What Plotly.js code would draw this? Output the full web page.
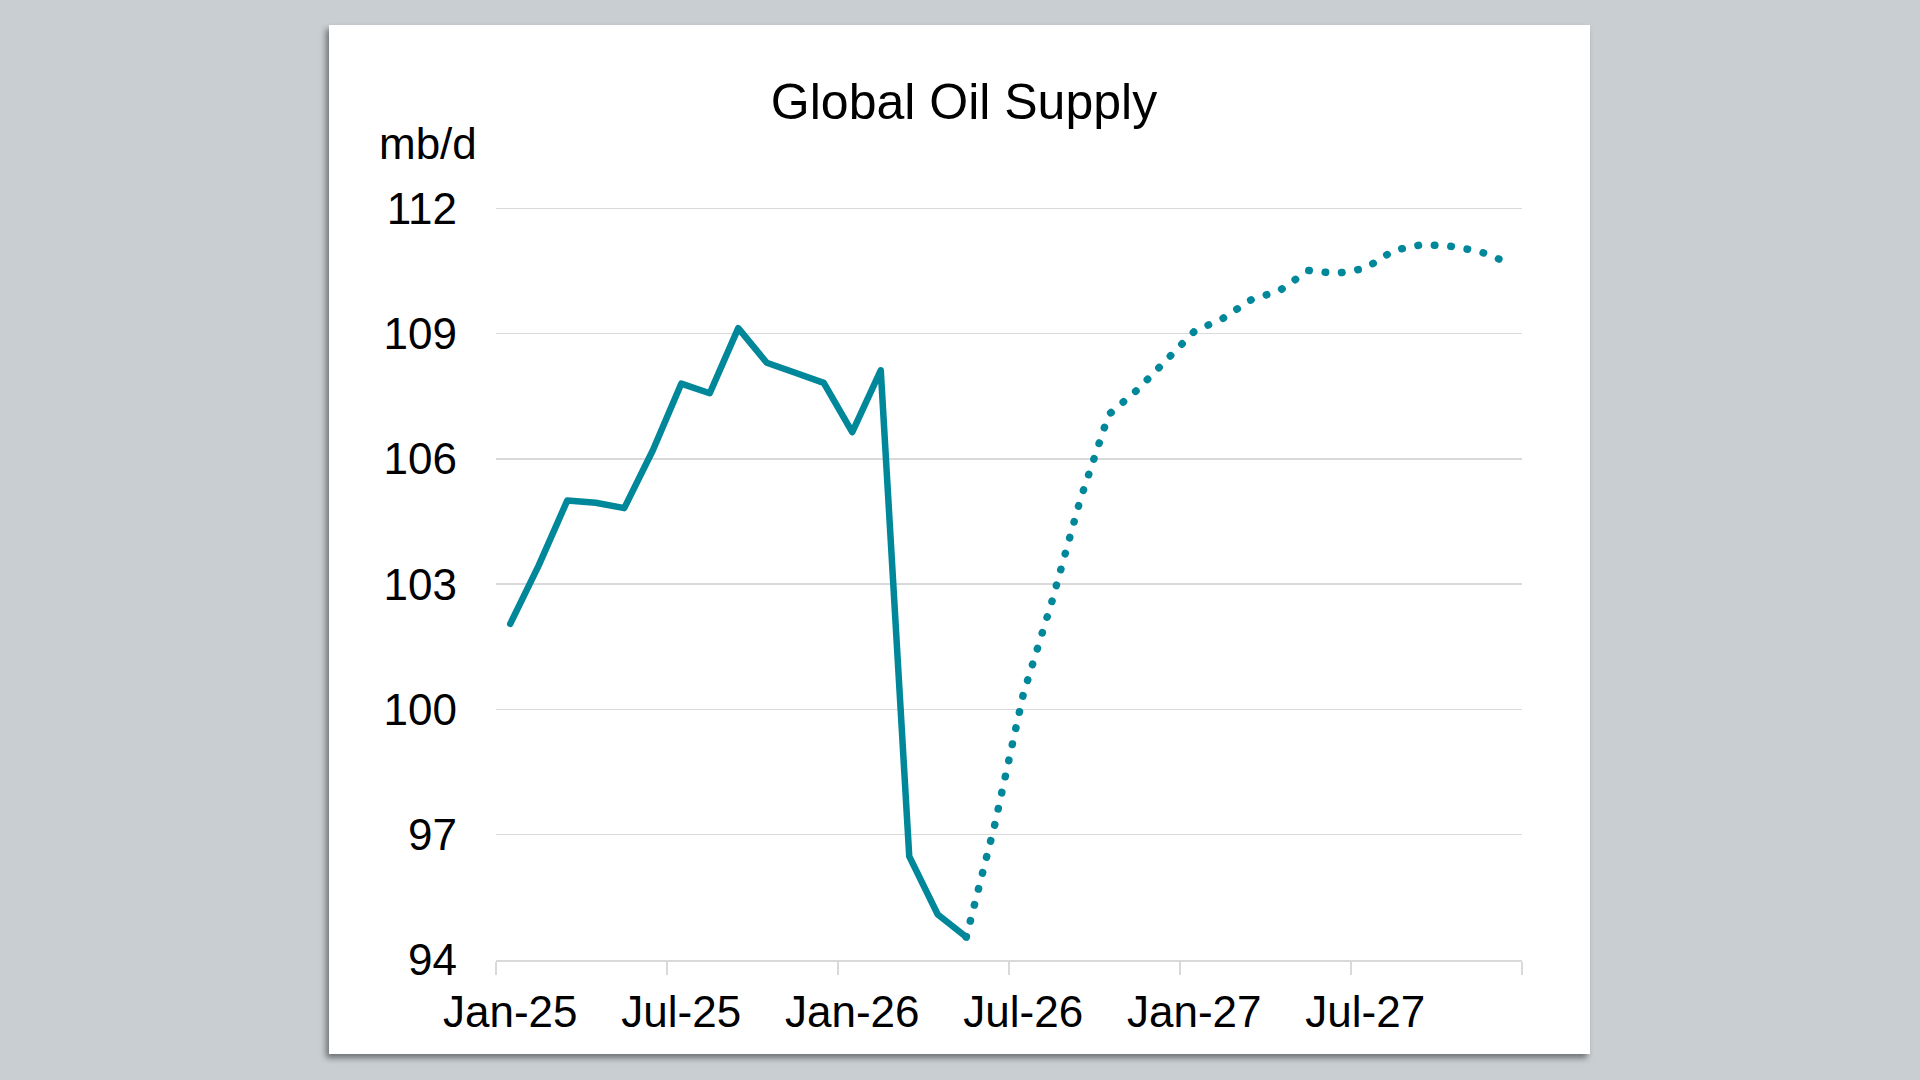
<!DOCTYPE html>
<html>
<head>
<meta charset="utf-8">
<script src="https://cdn.plot.ly/plotly-3.0.1.min.js"></script>
<style>
  html, body { margin: 0; padding: 0; width: 1920px; height: 1080px; overflow: hidden; background: #c9ced3; }
  #card { position: absolute; left: 329px; top: 25px; width: 1261px; height: 1029px; background: #fff;
          box-shadow: -3px 4px 6px rgba(0,0,0,0.45); }
  #card .scatterlayer path.js-line { stroke-linecap: round; stroke-linejoin: round; }
</style>
</head>
<body>
<div id="card"></div>
<script>
// ---- data ----
const months = [
  "Jan-25","Feb-25","Mar-25","Apr-25","May-25","Jun-25","Jul-25","Aug-25","Sep-25","Oct-25","Nov-25","Dec-25",
  "Jan-26","Feb-26","Mar-26","Apr-26","May-26","Jun-26","Jul-26","Aug-26","Sep-26","Oct-26","Nov-26","Dec-26",
  "Jan-27","Feb-27","Mar-27","Apr-27","May-27","Jun-27","Jul-27","Aug-27","Sep-27","Oct-27","Nov-27","Dec-27"
];
// Actual supply, Jan-25 .. May-26 (mb/d)
const actualMonths = months.slice(0, 17);
const actualSupply = [102.05, 103.45, 105.0, 104.95, 104.82, 106.2, 107.8, 107.57, 109.13, 108.3, 108.06, 107.82,
                      106.64, 108.12, 96.48, 95.09, 94.55];
// Forecast supply, May-26 .. Dec-27 (mb/d)
const forecastMonths = months.slice(16);
const forecastSupply = [94.55, 97.24, 100.36, 102.57, 105.02, 107.06, 107.65, 108.37, 109.05, 109.36, 109.81, 110.03,
                        110.51, 110.44, 110.56, 110.99, 111.13, 111.09, 110.97, 110.70];
const tickLabels = ["Jan-25","Jul-25","Jan-26","Jul-26","Jan-27","Jul-27"];
const yTicks = [94, 97, 100, 103, 106, 109, 112];
const unitLabel = "mb/d";
const chartTitle = "Global Oil Supply";

// ---- chart ----
const idx = m => months.indexOf(m);
const teal = "#00879a";
const font = "Arial, 'Liberation Sans', sans-serif";

const traces = [
  {
    x: forecastMonths.map(idx), y: forecastSupply, type: "scatter", mode: "lines",
    line: { color: teal, width: 7.5, dash: "0.5px,16px" }, hoverinfo: "skip"
  },
  {
    x: actualMonths.map(idx), y: actualSupply, type: "scatter", mode: "lines",
    line: { color: teal, width: 6.5 }, hoverinfo: "skip"
  }
];

const layout = {
  width: 1261, height: 1029,
  margin: { l: 167, r: 68, t: 182, b: 94, pad: 0 },
  paper_bgcolor: "#ffffff", plot_bgcolor: "#ffffff",
  showlegend: false,
  font: { family: font, color: "#000" },
  title: {
    text: chartTitle, font: { size: 50, color: "#000", family: font },
    x: 635 / 1261, xref: "container", xanchor: "center",
    y: 1 - 76 / 1029, yref: "container", yanchor: "middle"
  },
  xaxis: {
    type: "linear", range: [-0.5, 35.5], fixedrange: true,
    tickmode: "array", tickvals: tickLabels.map(idx), ticktext: tickLabels,
    ticks: "", showgrid: false, zeroline: false,
    showline: true, linecolor: "#d9d9d9", linewidth: 2,
    tickfont: { size: 44, color: "#000", family: font },
    ticklabelstandoff: 12,
    minor: { tickmode: "linear", tick0: -0.5, dtick: 6, ticks: "outside", ticklen: 13, tickwidth: 2,
             tickcolor: "#d9d9d9", showgrid: false }
  },
  yaxis: {
    range: [94, 112.03], fixedrange: true,
    tickmode: "array", tickvals: yTicks, ticktext: yTicks.map(String),
    ticks: "", showgrid: true, gridcolor: "#d9d9d9", gridwidth: 1.5,
    zeroline: false, showline: false,
    tickfont: { size: 44, color: "#000", family: font },
    ticklabelstandoff: 38
  },
  annotations: [
    { text: unitLabel, showarrow: false, xref: "paper", yref: "paper",
      x: (99 - 167) / 1026, xanchor: "center", y: (935 - 118) / 753, yanchor: "middle",
      font: { size: 44, color: "#000", family: font } }
  ]
};

Plotly.newPlot("card", traces, layout, { displayModeBar: false, staticPlot: true });
</script>
</body>
</html>
